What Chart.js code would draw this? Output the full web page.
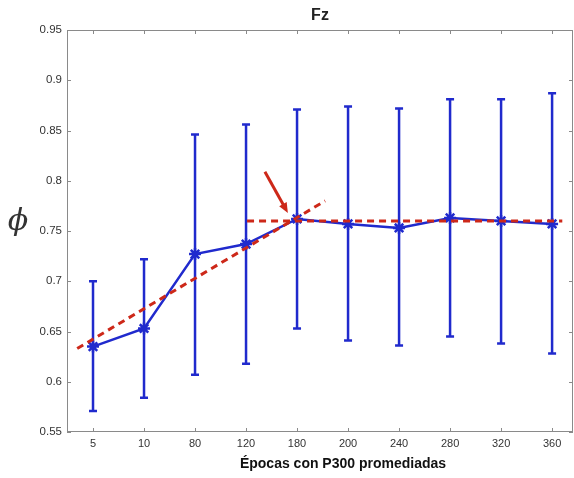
<!DOCTYPE html>
<html>
<head>
<meta charset="utf-8">
<script src="https://cdn.jsdelivr.net/npm/chart.js@4/dist/chart.umd.min.js"></script>
<style>
  html, body { margin: 0; padding: 0; background: #fff; }
</style>
</head>
<body>
<canvas id="myChart" width="574" height="478"></canvas>
<script>
// data
var categories = ['5', '10', '80', '120', '180', '200', '240', '280', '320', '360'];
var meanVals  = [0.635, 0.653, 0.727, 0.737, 0.762, 0.757, 0.753, 0.763, 0.760, 0.757];
var upperVals = [0.700, 0.722, 0.846, 0.856, 0.871, 0.874, 0.872, 0.881, 0.881, 0.887];
var lowerVals = [0.571, 0.584, 0.607, 0.618, 0.653, 0.641, 0.636, 0.645, 0.638, 0.628];
var trendRise = [{x: -0.31, y: 0.633}, {x: 4.55, y: 0.780}];
var trendFlat = [{x: 3.02, y: 0.760}, {x: 9.2, y: 0.760}];
var arrowPts  = [{x: 3.37, y: 0.809}, {x: 3.82, y: 0.768}];
var yTicks = [0.55, 0.6, 0.65, 0.7, 0.75, 0.8, 0.85, 0.9, 0.95];

var blue = 'rgb(32, 42, 205)';
var red = 'rgb(205, 40, 25)';

var meanPoints = meanVals.map(function(v, i) { return {x: i, y: v}; });

// error bars, axes box with inner ticks, titles, phi and arrow
var extras = {
    id: 'extras',
    beforeDatasetsDraw: function(chart) {
        var c = chart.ctx, xs = chart.scales.x, ys = chart.scales.y;
        c.save();
        c.strokeStyle = blue;
        c.lineWidth = 2.5;
        for (var i = 0; i < categories.length; i++) {
            var px = xs.getPixelForValue(i);
            var top = ys.getPixelForValue(upperVals[i]);
            var bot = ys.getPixelForValue(lowerVals[i]);
            c.beginPath();
            c.moveTo(px, top); c.lineTo(px, bot);
            c.moveTo(px - 4, top); c.lineTo(px + 4, top);
            c.moveTo(px - 4, bot); c.lineTo(px + 4, bot);
            c.stroke();
        }
        c.restore();
    },
    afterDraw: function(chart) {
        var c = chart.ctx, xs = chart.scales.x, ys = chart.scales.y, a = chart.chartArea;
        c.save();
        // box
        c.strokeStyle = '#8a8a8a';
        c.lineWidth = 1;
        c.strokeRect(a.left + 0.5, a.top + 0.5, a.right - a.left - 1, a.bottom - a.top - 1);
        c.beginPath();
        for (var i = 0; i < categories.length; i++) {
            var px = Math.round(xs.getPixelForValue(i)) + 0.5;
            c.moveTo(px, a.bottom); c.lineTo(px, a.bottom - 4);
            c.moveTo(px, a.top); c.lineTo(px, a.top + 4);
        }
        yTicks.forEach(function(v) {
            var py = Math.round(ys.getPixelForValue(v)) + 0.5;
            c.moveTo(a.left, py); c.lineTo(a.left + 4, py);
            c.moveTo(a.right, py); c.lineTo(a.right - 4, py);
        });
        c.stroke();

        // arrow
        var x0 = xs.getPixelForValue(arrowPts[0].x), y0 = ys.getPixelForValue(arrowPts[0].y);
        var x1 = xs.getPixelForValue(arrowPts[1].x), y1 = ys.getPixelForValue(arrowPts[1].y);
        var ang = Math.atan2(y1 - y0, x1 - x0);
        var hl = 11;
        c.strokeStyle = red;
        c.fillStyle = red;
        c.lineWidth = 3;
        c.beginPath();
        c.moveTo(x0, y0);
        c.lineTo(x1 - hl * 0.8 * Math.cos(ang), y1 - hl * 0.8 * Math.sin(ang));
        c.stroke();
        c.beginPath();
        c.moveTo(x1, y1);
        c.lineTo(x1 - hl * Math.cos(ang - 0.4), y1 - hl * Math.sin(ang - 0.4));
        c.lineTo(x1 - hl * Math.cos(ang + 0.4), y1 - hl * Math.sin(ang + 0.4));
        c.closePath();
        c.fill();

        // title
        c.fillStyle = '#222';
        c.textAlign = 'center';
        c.textBaseline = 'middle';
        c.font = 'bold 16px "Liberation Sans", Arial, sans-serif';
        c.fillText('Fz', (a.left + a.right) / 2, 16);

        // x label (sits a bit right of the plot centre in the original)
        c.fillStyle = '#111';
        c.font = 'bold 14px "Liberation Sans", Arial, sans-serif';
        c.fillText('Épocas con P300 promediadas', 343, 464);

        // y label
        c.font = 'italic 30px "DejaVu Serif", serif';
        c.fillStyle = '#333';
        c.fillText('\u03D5', 18, 222);
        c.restore();
    }
};

var ctx = document.getElementById('myChart').getContext('2d');
var myChart = new Chart(ctx, {
    type: 'line',
    data: {
        datasets: [{
            label: 'trend rise',
            data: trendRise,
            borderColor: red,
            borderWidth: 3,
            borderDash: [7, 5],
            pointRadius: 0,
            fill: false
        }, {
            label: 'trend flat',
            data: trendFlat,
            borderColor: red,
            borderWidth: 3,
            borderDash: [7, 5],
            pointRadius: 0,
            fill: false
        }, {
            label: 'phi',
            data: meanPoints,
            borderColor: blue,
            borderWidth: 2.5,
            pointStyle: 'star',
            pointRadius: 6,
            pointBorderWidth: 2.5,
            pointBorderColor: blue,
            pointBackgroundColor: blue,
            tension: 0,
            fill: false
        }]
    },
    options: {
        responsive: false,
        animation: false,
        devicePixelRatio: 1,
        layout: { autoPadding: false, padding: { left: 0, top: 30, right: 1, bottom: 0 } },
        plugins: {
            legend: { display: false },
            tooltip: { enabled: false }
        },
        scales: {
            x: {
                type: 'linear',
                min: -0.51,
                max: 9.41,
                afterBuildTicks: function(scale) {
                    scale.ticks = categories.map(function(c, i) { return {value: i}; });
                },
                afterFit: function(scale) {
                    scale.height = 46;
                },
                grid: { display: true, drawOnChartArea: false, drawTicks: true, tickLength: 5, color: 'rgba(0,0,0,0)' },
                border: { display: false },
                ticks: {
                    padding: 0,
                    color: '#333',
                    font: { family: '"Liberation Sans", Arial, sans-serif', size: 11 },
                    callback: function(value) { return categories[value]; }
                }
            },
            y: {
                min: 0.55,
                max: 0.95,
                afterBuildTicks: function(scale) {
                    scale.ticks = yTicks.map(function(v) { return {value: v}; });
                },
                afterFit: function(scale) {
                    scale.width = 67;
                },
                grid: { display: false, drawTicks: false },
                border: { display: false },
                ticks: {
                    padding: 5,
                    color: '#333',
                    font: { family: '"Liberation Sans", Arial, sans-serif', size: 11.5 },
                    callback: function(value) { return String(parseFloat(value.toFixed(2))); }
                }
            }
        }
    },
    plugins: [extras]
});
</script>
</body>
</html>
